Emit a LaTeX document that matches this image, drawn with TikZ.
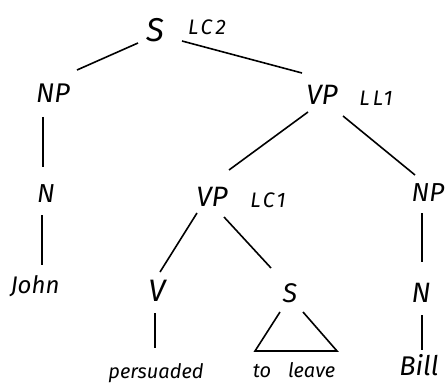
\documentclass[tikz,border=0pt]{standalone}
\usepackage{fontspec}
\setmainfont{Fira Sans}
\begin{document}
\begin{tikzpicture}[x=1pt,y=-1pt,line width=1.6pt,
  cat/.style={inner sep=0pt,font=\fontsize{#1}{#1}\selectfont\itshape},
  cat/.default=27,
  word/.style={inner sep=0pt,anchor=base,font=\fontsize{#1}{#1}\selectfont\itshape},
  word/.default=20,
  ann/.style={inner sep=0pt,font=\fontsize{21}{21}\selectfont\itshape\addfontfeature{LetterSpace=15}}]
\useasboundingbox (0,0) rectangle (446,390);
\node[cat=33] (S) at (155,30) {S};
\node[ann] (lc2) at (207,27) {LC2};
\node[cat] (NP1) at (53,93) {NP};
\node[cat=28] (VP1) at (322,95) {VP};
\node[ann] (ll1) at (376,98) {LL1};
\node[cat=26] (N1) at (46,194) {N};
\node[word=24] (john) at (35,293) {John};
\node[cat=28] (VP2) at (212,197) {VP};
\node[ann] (lc1) at (268,200) {LC1};
\node[cat=26] (NP2) at (428,193) {NP};
\node[cat=31] (V) at (157,291) {V};
\node[cat=27] (S2) at (290,293) {S};
\node[cat=28] (N2) at (421,293) {N};
\node[word] (pers) at (156,378) {persuaded};
\node[word] (leave) at (294,377) {to\hspace{17pt}leave};
\node[word=27] (bill) at (419,375) {Bill};
\coordinate (tl) at (255,351);
\coordinate (tr) at (337,351);
\draw ([shift={(-17,13)}]S.center) -- ([shift={(24,-23)}]NP1.center);
\draw ([shift={(27,11)}]S.center) -- ([shift={(-20,-22)}]VP1.center);
\draw ([shift={(-10,24)}]NP1.center) -- ([shift={(-3,-27)}]N1.center);
\draw ([shift={(-4,21)}]N1.center) -- ([shift={(7,-28)}]john.base);
\draw ([shift={(-14,17)}]VP1.center) -- ([shift={(17,-27)}]VP2.center);
\draw ([shift={(21,21)}]VP1.center) -- ([shift={(-13,-18)}]NP2.center);
\draw ([shift={(-6,20)}]NP2.center) -- ([shift={(1,-31)}]N2.center);
\draw ([shift={(1,22)}]N2.center) -- ([shift={(3,-25)}]bill.base);
\draw ([shift={(-15,16)}]VP2.center) -- ([shift={(3,-19)}]V.center);
\draw ([shift={(12,20)}]VP2.center) -- ([shift={(-19,-25)}]S2.center);
\draw ([shift={(-2,22)}]V.center) -- ([shift={(-1,-30)}]pers.base);
\draw ([shift={(-10,19)}]S2.center) -- (tl) -- (tr) -- ([shift={(13,19)}]S2.center);
\end{tikzpicture}
\end{document}
